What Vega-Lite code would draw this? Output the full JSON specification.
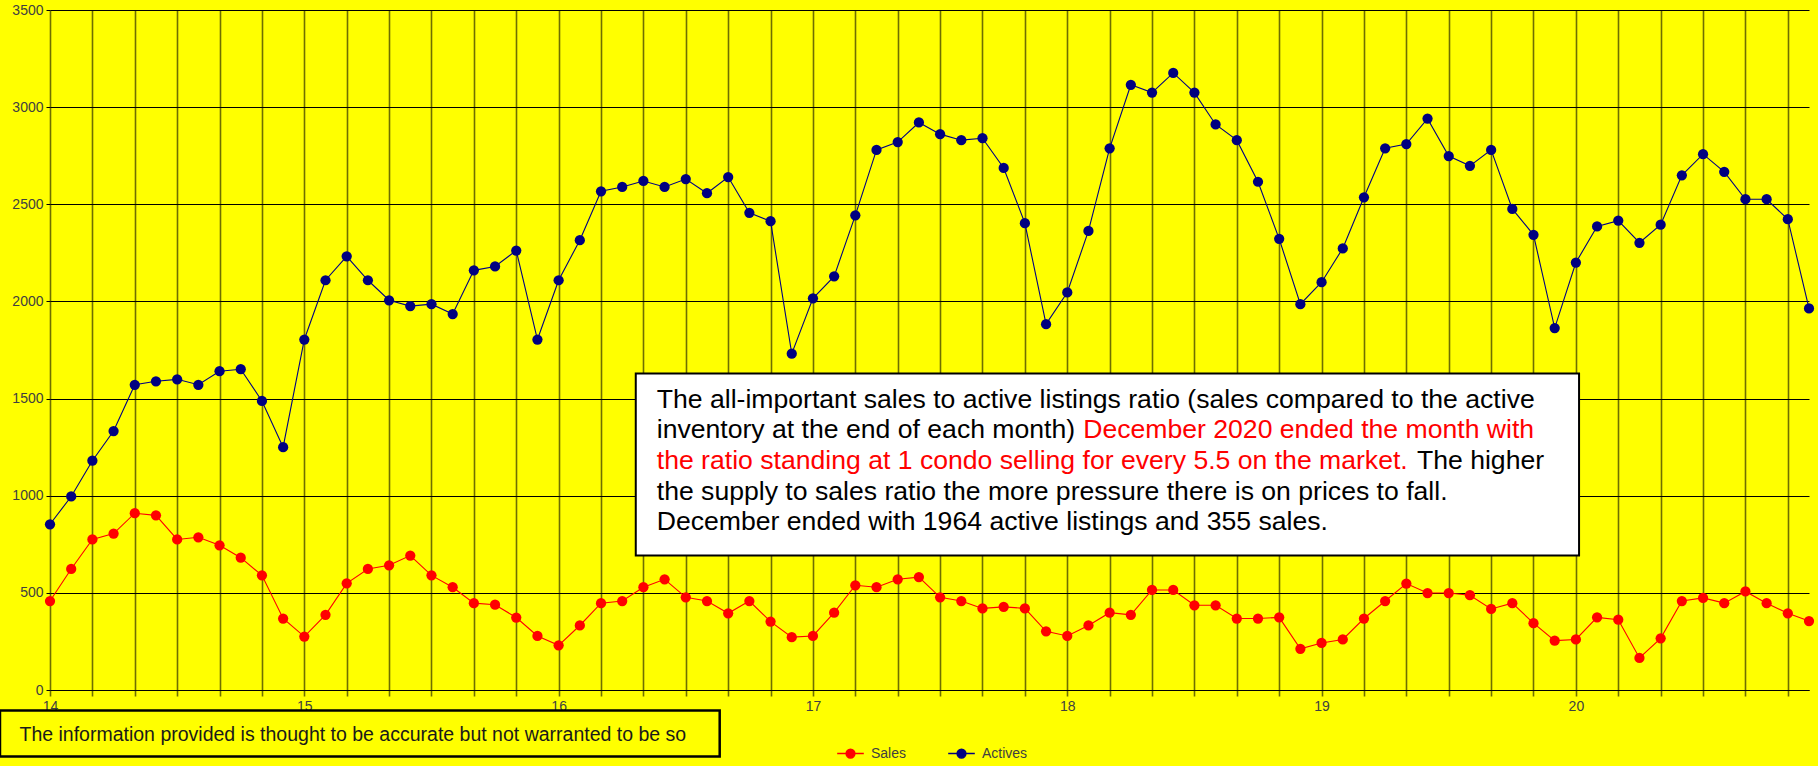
{
  "$schema": "https://vega.github.io/schema/vega-lite/v6.json",
  "width": 1759,
  "height": 680,
  "autosize": {"type": "none"},
  "padding": {"left": 50, "top": 10, "right": 9, "bottom": 76},
  "background": "#FFFF00",
  "config": {"view": {"stroke": null}, "font": "Liberation Sans"},
  "layer": [
    {
      "data": {"values": [
        {"month": 0, "Sales": 458, "Actives": 853},
        {"month": 1, "Sales": 623, "Actives": 996},
        {"month": 2, "Sales": 775, "Actives": 1180},
        {"month": 3, "Sales": 805, "Actives": 1333},
        {"month": 4, "Sales": 910, "Actives": 1571},
        {"month": 5, "Sales": 899, "Actives": 1589},
        {"month": 6, "Sales": 775, "Actives": 1599},
        {"month": 7, "Sales": 786, "Actives": 1571},
        {"month": 8, "Sales": 745, "Actives": 1641},
        {"month": 9, "Sales": 681, "Actives": 1651},
        {"month": 10, "Sales": 590, "Actives": 1488},
        {"month": 11, "Sales": 368, "Actives": 1250},
        {"month": 12, "Sales": 275, "Actives": 1804},
        {"month": 13, "Sales": 387, "Actives": 2109},
        {"month": 14, "Sales": 549, "Actives": 2232},
        {"month": 15, "Sales": 623, "Actives": 2109},
        {"month": 16, "Sales": 642, "Actives": 2006},
        {"month": 17, "Sales": 692, "Actives": 1976},
        {"month": 18, "Sales": 590, "Actives": 1986},
        {"month": 19, "Sales": 529, "Actives": 1935},
        {"month": 20, "Sales": 447, "Actives": 2160},
        {"month": 21, "Sales": 439, "Actives": 2180},
        {"month": 22, "Sales": 373, "Actives": 2262},
        {"month": 23, "Sales": 278, "Actives": 1804},
        {"month": 24, "Sales": 230, "Actives": 2109},
        {"month": 25, "Sales": 332, "Actives": 2315},
        {"month": 26, "Sales": 447, "Actives": 2567},
        {"month": 27, "Sales": 458, "Actives": 2589},
        {"month": 28, "Sales": 529, "Actives": 2620},
        {"month": 29, "Sales": 570, "Actives": 2589},
        {"month": 30, "Sales": 477, "Actives": 2630},
        {"month": 31, "Sales": 458, "Actives": 2557},
        {"month": 32, "Sales": 395, "Actives": 2640},
        {"month": 33, "Sales": 458, "Actives": 2456},
        {"month": 34, "Sales": 352, "Actives": 2413},
        {"month": 35, "Sales": 272, "Actives": 1731},
        {"month": 36, "Sales": 278, "Actives": 2016},
        {"month": 37, "Sales": 398, "Actives": 2129},
        {"month": 38, "Sales": 539, "Actives": 2443},
        {"month": 39, "Sales": 529, "Actives": 2780},
        {"month": 40, "Sales": 570, "Actives": 2820},
        {"month": 41, "Sales": 581, "Actives": 2921},
        {"month": 42, "Sales": 477, "Actives": 2861},
        {"month": 43, "Sales": 458, "Actives": 2830},
        {"month": 44, "Sales": 420, "Actives": 2840},
        {"month": 45, "Sales": 428, "Actives": 2687},
        {"month": 46, "Sales": 420, "Actives": 2403},
        {"month": 47, "Sales": 302, "Actives": 1883},
        {"month": 48, "Sales": 278, "Actives": 2046},
        {"month": 49, "Sales": 332, "Actives": 2363},
        {"month": 50, "Sales": 398, "Actives": 2788},
        {"month": 51, "Sales": 387, "Actives": 3115},
        {"month": 52, "Sales": 515, "Actives": 3075},
        {"month": 53, "Sales": 515, "Actives": 3176},
        {"month": 54, "Sales": 436, "Actives": 3075},
        {"month": 55, "Sales": 436, "Actives": 2911},
        {"month": 56, "Sales": 368, "Actives": 2830},
        {"month": 57, "Sales": 368, "Actives": 2616},
        {"month": 58, "Sales": 374, "Actives": 2322},
        {"month": 59, "Sales": 212, "Actives": 1986},
        {"month": 60, "Sales": 242, "Actives": 2099},
        {"month": 61, "Sales": 260, "Actives": 2273},
        {"month": 62, "Sales": 368, "Actives": 2536},
        {"month": 63, "Sales": 458, "Actives": 2788},
        {"month": 64, "Sales": 548, "Actives": 2810},
        {"month": 65, "Sales": 499, "Actives": 2941},
        {"month": 66, "Sales": 499, "Actives": 2748},
        {"month": 67, "Sales": 488, "Actives": 2698},
        {"month": 68, "Sales": 417, "Actives": 2780},
        {"month": 69, "Sales": 447, "Actives": 2476},
        {"month": 70, "Sales": 344, "Actives": 2343},
        {"month": 71, "Sales": 254, "Actives": 1863},
        {"month": 72, "Sales": 260, "Actives": 2200},
        {"month": 73, "Sales": 374, "Actives": 2386},
        {"month": 74, "Sales": 362, "Actives": 2416},
        {"month": 75, "Sales": 165, "Actives": 2302},
        {"month": 76, "Sales": 266, "Actives": 2395},
        {"month": 77, "Sales": 458, "Actives": 2649},
        {"month": 78, "Sales": 474, "Actives": 2758},
        {"month": 79, "Sales": 447, "Actives": 2667},
        {"month": 80, "Sales": 507, "Actives": 2526},
        {"month": 81, "Sales": 447, "Actives": 2526},
        {"month": 82, "Sales": 395, "Actives": 2423},
        {"month": 83, "Sales": 355, "Actives": 1964}
      ]},
      "transform": [{"fold": ["Sales", "Actives"], "as": ["series", "units"]}],
      "encoding": {
        "x": {
          "field": "month", "type": "quantitative",
          "scale": {"domain": [0, 83], "nice": false, "zero": false},
          "axis": {
            "values": [0,1,2,3,4,5,6,7,8,9,10,11,12,13,14,15,16,17,18,19,20,21,22,23,24,25,26,27,28,29,30,31,32,33,34,35,36,37,38,39,40,41,42,43,44,45,46,47,48,49,50,51,52,53,54,55,56,57,58,59,60,61,62,63,64,65,66,67,68,69,70,71,72,73,74,75,76,77,78,79,80,81,82,83],
            "labelExpr": "datum.value % 12 == 0 ? '' + (14 + datum.value / 12) : ''",
            "title": null,
            "grid": true, "gridColor": "#6f6f00", "gridWidth": 1.6, "gridOpacity": 1,
            "ticks": true, "tickColor": "#6f6f00", "tickSize": 6, "tickWidth": 1.6,
            "domain": true, "domainColor": "#000000", "domainWidth": 1.2,
            "labelFont": "Liberation Sans", "labelFontSize": 14, "labelColor": "#404040",
            "labelPadding": 3, "labelOverlap": false, "labelFlush": false, "labelBaseline": "top"
          }
        },
        "y": {
          "field": "units", "type": "quantitative",
          "scale": {"domain": [0, 3500], "nice": false},
          "axis": {
            "values": [0, 500, 1000, 1500, 2000, 2500, 3000, 3500],
            "format": "d",
            "title": null,
            "grid": true, "gridColor": "#000000", "gridWidth": 1, "gridOpacity": 1,
            "domain": false,
            "tickColor": "#000000", "tickSize": 4,
            "labelFont": "Liberation Sans", "labelFontSize": 14, "labelColor": "#404040",
            "labelPadding": 3
          }
        },
        "color": {
          "field": "series", "type": "nominal",
          "scale": {"domain": ["Sales", "Actives"], "range": ["#FF0000", "#000080"]},
          "legend": {
            "orient": "none", "legendX": 786, "legendY": 729, "direction": "horizontal",
            "title": null,
            "symbolType": "M-1,0H1M-0.33,0A0.33,0.33,0,1,1,0.33,0A0.33,0.33,0,1,1,-0.33,0Z",
            "symbolSize": 708, "symbolStrokeWidth": 1.5,
            "labelFont": "Liberation Sans", "labelFontSize": 14, "labelColor": "#404040",
            "labelOffset": 6, "columnPadding": 38,
            "encode": {"symbols": {"update": {
              "fill": {"scale": "color", "field": "value"},
              "stroke": {"scale": "color", "field": "value"}
            }}}
          }
        }
      },
      "layer": [
        {"mark": {"type": "line", "strokeWidth": 1.1}},
        {"mark": {"type": "point", "filled": true, "size": 105, "opacity": 1}}
      ]
    },
    {
      "data": {"values": [{}]},
      "mark": {"type": "rect", "fill": "#FFFFFF", "stroke": "#000000", "strokeWidth": 2},
      "encoding": {
        "x": {"datum": 27.64, "type": "quantitative"},
        "x2": {"datum": 72.15},
        "y": {"datum": 1629, "type": "quantitative"},
        "y2": {"datum": 692}
      }
    },
    {
      "data": {"values": [{}]},
      "mark": {"type": "text", "align": "left", "baseline": "alphabetic", "font": "Liberation Sans", "fontSize": 26.6, "fill": "#000000"},
      "encoding": {
        "x": {"datum": 28.63, "type": "quantitative"},
        "y": {"datum": 1452.5, "type": "quantitative"},
        "text": {"value": "The all-important sales to active listings ratio (sales compared to the active"}
      }
    },
    {
      "data": {"values": [{}]},
      "mark": {"type": "text", "align": "left", "baseline": "alphabetic", "font": "Liberation Sans", "fontSize": 26.6, "fill": "#000000"},
      "encoding": {
        "x": {"datum": 28.63, "type": "quantitative"},
        "y": {"datum": 1296, "type": "quantitative"},
        "text": {"value": "inventory at the end of each month)"}
      }
    },
    {
      "data": {"values": [{}]},
      "mark": {"type": "text", "align": "right", "baseline": "alphabetic", "font": "Liberation Sans", "fontSize": 26.6, "fill": "#FF0000"},
      "encoding": {
        "x": {"datum": 70.03, "type": "quantitative"},
        "y": {"datum": 1296, "type": "quantitative"},
        "text": {"value": "December 2020 ended the month with"}
      }
    },
    {
      "data": {"values": [{}]},
      "mark": {"type": "text", "align": "left", "baseline": "alphabetic", "font": "Liberation Sans", "fontSize": 26.6, "fill": "#FF0000"},
      "encoding": {
        "x": {"datum": 28.63, "type": "quantitative"},
        "y": {"datum": 1138.5, "type": "quantitative"},
        "text": {"value": "the ratio standing at 1 condo selling for every 5.5 on the market."}
      }
    },
    {
      "data": {"values": [{}]},
      "mark": {"type": "text", "align": "right", "baseline": "alphabetic", "font": "Liberation Sans", "fontSize": 26.6, "fill": "#000000"},
      "encoding": {
        "x": {"datum": 70.5, "type": "quantitative"},
        "y": {"datum": 1138.5, "type": "quantitative"},
        "text": {"value": "The higher"}
      }
    },
    {
      "data": {"values": [{}]},
      "mark": {"type": "text", "align": "left", "baseline": "alphabetic", "font": "Liberation Sans", "fontSize": 26.6, "fill": "#000000"},
      "encoding": {
        "x": {"datum": 28.63, "type": "quantitative"},
        "y": {"datum": 980.5, "type": "quantitative"},
        "text": {"value": "the supply to sales ratio the more pressure there is on prices to fall."}
      }
    },
    {
      "data": {"values": [{}]},
      "mark": {"type": "text", "align": "left", "baseline": "alphabetic", "font": "Liberation Sans", "fontSize": 26.6, "fill": "#000000"},
      "encoding": {
        "x": {"datum": 28.63, "type": "quantitative"},
        "y": {"datum": 822.5, "type": "quantitative"},
        "text": {"value": "December ended with 1964 active listings and 355 sales."}
      }
    },
    {
      "data": {"values": [{}]},
      "mark": {"type": "rect", "fill": "#FFFF00", "stroke": "#000000", "strokeWidth": 2.5},
      "encoding": {
        "x": {"datum": -2.36, "type": "quantitative"},
        "x2": {"datum": 31.6},
        "y": {"datum": -105.5, "type": "quantitative"},
        "y2": {"datum": -342}
      }
    },
    {
      "data": {"values": [{}]},
      "mark": {"type": "text", "align": "left", "baseline": "alphabetic", "font": "Liberation Sans", "fontSize": 19.5, "fill": "#1a1a1a"},
      "encoding": {
        "x": {"datum": -1.44, "type": "quantitative"},
        "y": {"datum": -263.5, "type": "quantitative"},
        "text": {"value": "The information provided is thought to be accurate but not warranted to be so"}
      }
    }
  ]
}
